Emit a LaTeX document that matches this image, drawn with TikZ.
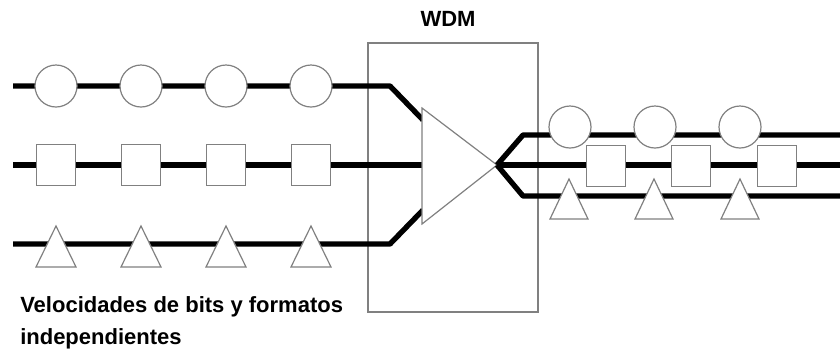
\documentclass[tikz,border=0pt]{standalone}
\usepackage{fontspec}
\setmainfont{Liberation Sans}

\tikzset{
	fibra/.style={line width=4pt, line join=round},
	simb/.style={draw=gray, line width=0.9pt, fill=white},
	circulo/.style={simb, circle, minimum size=31.5pt, inner sep=0pt},
	cuadro/.style={simb, rectangle, minimum width=29pt, minimum height=30.5pt, inner sep=0pt},
	caja/.style={draw=gray, line width=0.9pt},
	rotulo/.style={font=\fontsize{16.5}{24}\selectfont\bfseries}
}

\begin{document}
\begin{tikzpicture}[x=0.75pt,y=-0.75pt]
	\useasboundingbox (0,0) rectangle (840,358);

	% caja WDM
	\draw[caja] (368,43) rectangle (538,312);
	\node[rotulo] (wdm) at (448,19) {WDM};

	% puntos de paso de las fibras
	\coordinate (e1) at (13,86);	\coordinate (e2) at (13,165);	\coordinate (e3) at (13,244);
	\coordinate (m1) at (423,120);	\coordinate (m2) at (423,165);	\coordinate (m3) at (423,210);
	\coordinate (mux) at (497,165);
	\coordinate (s1) at (840,135);	\coordinate (s2) at (840,165);	\coordinate (s3) at (840,196);

	% fibras de entrada
	\draw[fibra] (e1) -- (390,86) -- (m1);
	\draw[fibra] (e2) -- (m2);
	\draw[fibra] (e3) -- (390,244) -- (m3);

	% multiplexor
	\filldraw[simb] (422,108) -- (mux) -- (422,224) -- cycle;

	% fibras de salida
	\draw[fibra] (mux) -- (523,135) -- (s1);
	\draw[fibra] (mux) -- (s2);
	\draw[fibra] (mux) -- (523,196) -- (s3);

	% canales de entrada
	\node[circulo] (c1) at (56,86) {};
	\node[circulo] (c2) at (141,86) {};
	\node[circulo] (c3) at (226,86) {};
	\node[circulo] (c4) at (311,86) {};

	\node[cuadro] (q1) at (56,165) {};
	\node[cuadro] (q2) at (141,165) {};
	\node[cuadro] (q3) at (226,165) {};
	\node[cuadro] (q4) at (311,165) {};

	\filldraw[simb] (36,267) -- (56,226) -- (76,267) -- cycle;
	\filldraw[simb] (121,267) -- (141,226) -- (161,267) -- cycle;
	\filldraw[simb] (206,267) -- (226,226) -- (246,267) -- cycle;
	\filldraw[simb] (291,267) -- (311,226) -- (331,267) -- cycle;

	% canales de salida
	\node[circulo] (c5) at (570,127) {};
	\node[circulo] (c6) at (655,127) {};
	\node[circulo] (c7) at (740,127) {};

	\node[cuadro] (q5) at (606,166) {};
	\node[cuadro] (q6) at (691,166) {};
	\node[cuadro] (q7) at (777,166) {};

	\filldraw[simb] (550,219) -- (569,179) -- (588,219) -- cycle;
	\filldraw[simb] (635,219) -- (654,179) -- (673,219) -- cycle;
	\filldraw[simb] (721,219) -- (740,179) -- (759,219) -- cycle;

	\node[rotulo, anchor=north west, align=left, inner sep=0pt] (texto) at (20,296)
		{Velocidades de bits y formatos\\independientes};
\end{tikzpicture}
\end{document}
